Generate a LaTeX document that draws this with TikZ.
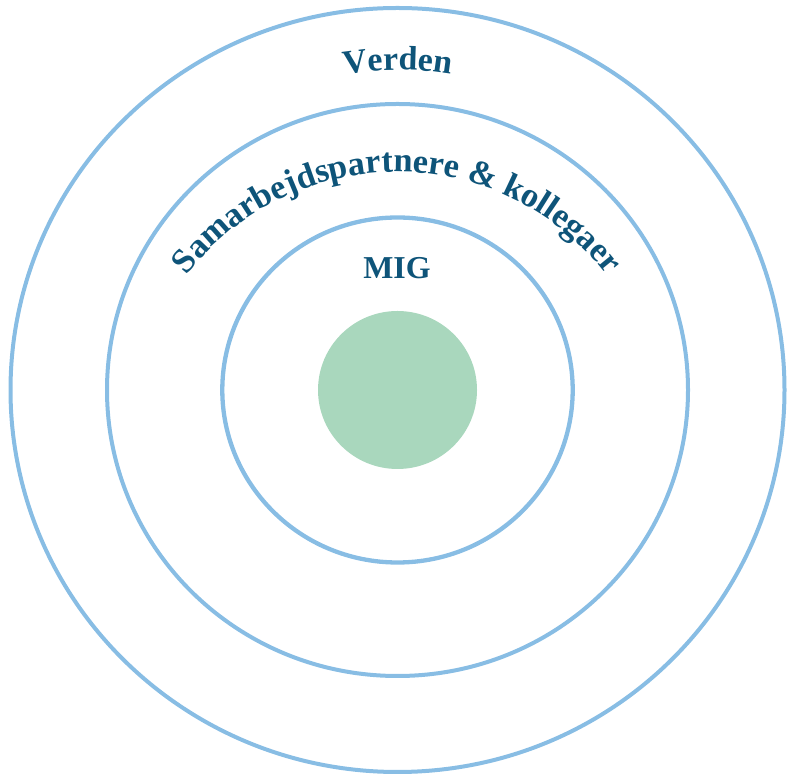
\documentclass[tikz,border=0pt]{standalone}
\usepackage{fontspec}
\setmainfont{Liberation Serif}
\usetikzlibrary{decorations.text,calc}
\definecolor{ringblue}{HTML}{88BDE4}
\definecolor{mintgreen}{HTML}{A9D7BD}
\definecolor{textblue}{HTML}{0E5479}
\begin{document}
\begin{tikzpicture}[x=1bp,y=1bp,
  ring/.style={draw=ringblue, line width=4bp},
  labeltext/.style={font=\bfseries\fontsize{32}{32}\selectfont, text=textblue, inner sep=0pt}]
\useasboundingbox (0,0) rectangle (787,774);
\coordinate (c) at (397.5,384);
\draw[ring] (c) ellipse [x radius=387, y radius=382];
\draw[ring] (c) ellipse [x radius=290.5, y radius=286];
\draw[ring, line width=4.3bp] (c) ellipse [x radius=175.2, y radius=172.5];
\fill[mintgreen] (c) ellipse [x radius=79.5, y radius=79];
\node[labeltext, anchor=base] (mig) at (397,495) {MIG};
\coordinate (arcc) at (397,337);
\path[decorate, decoration={text along path,
   text={|\bfseries\fontsize{34}{34}\selectfont|Verden},
   text align=center, text color=textblue}]
   ($(c)+(120:320)$) arc[start angle=120, end angle=60, radius=320];
\path[decorate, decoration={text along path,
   text={|\bfseries\fontsize{34.5}{34.5}\selectfont|Samarbejdspartnere {\&} kollegaer},
   text align=center, text color=textblue}]
   ($(arcc)+(150:265)$) arc[start angle=150, end angle=30, radius=265];
\end{tikzpicture}
\end{document}
